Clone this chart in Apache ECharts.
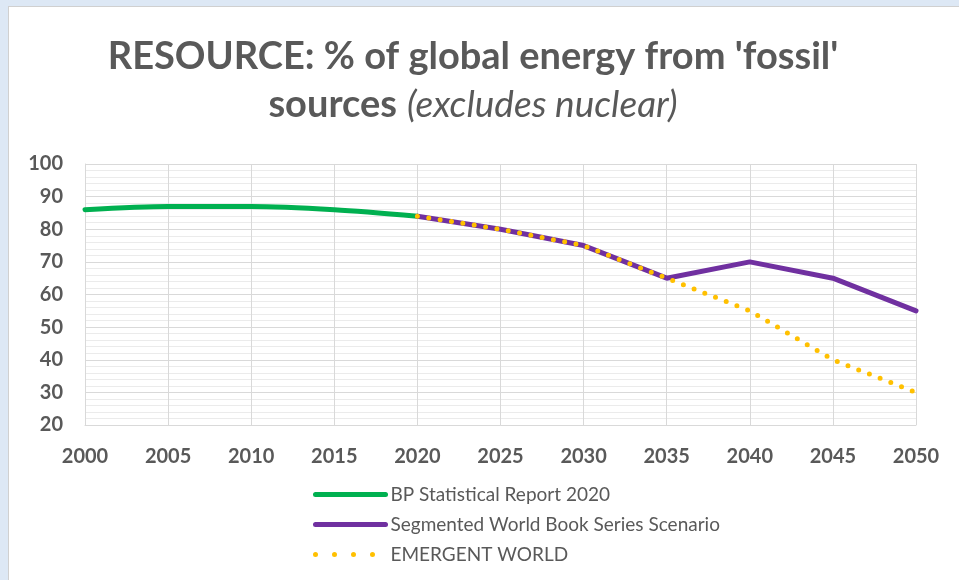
<!DOCTYPE html>
<html>
<head>
<meta charset="utf-8">
<script src="https://cdn.jsdelivr.net/npm/echarts@6/dist/echarts.min.js"></script>
<style>
  html, body { margin: 0; padding: 0; background: #dde8f5; }
  #frame {
    position: absolute; left: 8px; top: 6px; width: 951px; height: 574px;
    background: #fff; border-left: 1px solid #d0d0d0; border-top: 1px solid #d0d0d0;
  }
  #main { position: absolute; left: 0; top: 0; width: 959px; height: 580px; }
</style>
</head>
<body>
<div id="frame"></div>
<div id="main"></div>
<script>
const years = [2000, 2005, 2010, 2015, 2020, 2025, 2030, 2035, 2040, 2045, 2050]
const bp = [86, 87, 87, 86, 84, null, null, null, null, null, null]
const segmented = [null, null, null, null, 84, 80, 75, 65, 70, 65, 55]
const emergent = [null, null, null, null, 84, 80, 75, 65, 55, 40, 30]

const pairs = vals => years.map((y, i) => [y, vals[i]]).filter(p => p[1] !== null)

const grey = '#595959'
const myChart = echarts.init(document.getElementById('main'))
const option = {
  backgroundColor: 'transparent',
  title: {
    text: "{b|RESOURCE: % of global energy from 'fossil'}\n{b|sources}  {i|(excludes nuclear)}",
    left: 468,
    top: 28,
    textAlign: 'center',
    textStyle: {
      rich: {
        b: { fontFamily: 'Lato', fontWeight: 'bold', fontSize: 38, color: grey, lineHeight: 48 },
        i: { fontFamily: 'Lato', fontWeight: 'normal', fontStyle: 'italic', fontSize: 37, color: grey, lineHeight: 48 }
      }
    }
  },
  grid: { left: 85, right: 43, top: 164, bottom: 155 },
  xAxis: {
    type: 'value',
    min: 2000,
    max: 2050,
    interval: 5,
    axisLine: { show: true, lineStyle: { color: '#d9d9d9', width: 1 } },
    axisTick: { show: false },
    splitLine: { show: true, lineStyle: { color: '#d9d9d9', width: 1 } },
    axisLabel: { color: grey, fontFamily: 'Lato', fontWeight: 'bold', fontSize: 20, margin: 22, formatter: v => String(v) }
  },
  yAxis: {
    type: 'value',
    min: 20,
    max: 100,
    interval: 10,
    axisLine: { show: true, lineStyle: { color: '#d9d9d9', width: 1 } },
    axisTick: { show: false },
    splitLine: { lineStyle: { color: '#d9d9d9', width: 1 } },
    minorTick: { show: false, splitNumber: 5 },
    minorSplitLine: { show: true, lineStyle: { color: '#ebebeb', width: 1 } },
    axisLabel: { color: grey, fontFamily: 'Lato', fontWeight: 'bold', fontSize: 20, margin: 22 }
  },
  legend: {
    orient: 'vertical',
    left: 308,
    top: 480,
    itemWidth: 70,
    itemHeight: 8,
    itemGap: 11,
    itemStyle: { opacity: 0 },
    textStyle: { color: grey, fontFamily: 'Lato', fontSize: 19 },
    data: [
      { name: 'BP Statistical Report 2020', lineStyle: { width: 5 } },
      { name: 'Segmented World Book Series Scenario', lineStyle: { width: 5 } },
      { name: 'EMERGENT WORLD', lineStyle: { width: 5, type: [0, 19] } }
    ]
  },
  series: [
    {
      name: 'BP Statistical Report 2020',
      type: 'line',
      data: pairs(bp),
      smooth: 0.3,
      symbol: 'none',
      lineStyle: { color: '#00b050', width: 5, cap: 'round' },
      itemStyle: { color: '#00b050' }
    },
    {
      name: 'Segmented World Book Series Scenario',
      type: 'line',
      data: pairs(segmented),
      symbol: 'none',
      lineStyle: { color: '#7030a0', width: 5, cap: 'round' },
      itemStyle: { color: '#7030a0' }
    },
    {
      name: 'EMERGENT WORLD',
      type: 'line',
      data: pairs(emergent),
      symbol: 'none',
      z: 3,
      lineStyle: { color: '#ffc000', width: 5, type: [0, 11.5], cap: 'round' },
      itemStyle: { color: '#ffc000' }
    }
  ]
}
myChart.setOption(option, true)
</script>
</body>
</html>
